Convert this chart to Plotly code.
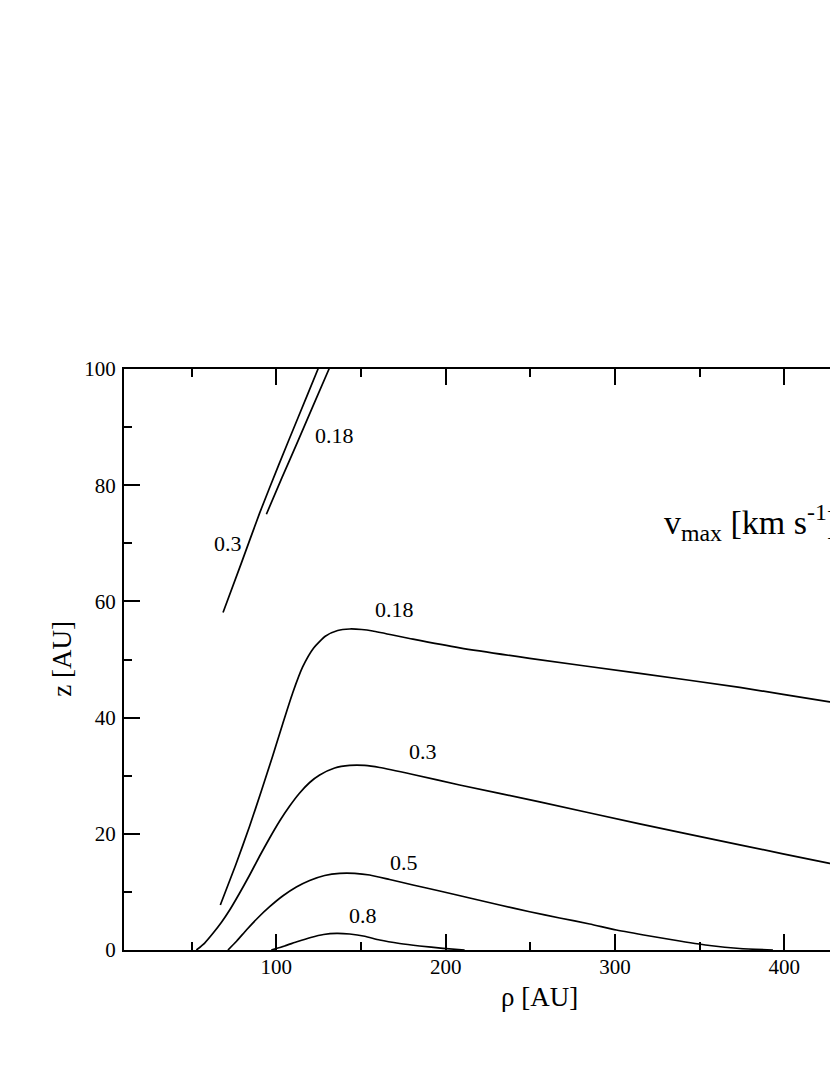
import plotly.graph_objects as go

# contour curves of v_max (rho in AU, z in AU)
rho_018_low = [66.9, 75.96, 84.23, 91.32, 97.82, 103.72, 109.63, 115.53, 122.03, 129.12, 136.21, 143.3,
               150.39, 156.88, 180.7, 208.3, 249.6, 314.6, 373.7, 426.8, 440.0]
z_018_low = [7.75, 14.63, 21.34, 27.54, 33.39, 38.90, 44.23, 48.71, 51.98, 54.04, 54.99, 55.25,
             55.16, 54.91, 53.5, 52.0, 50.2, 47.6, 45.2, 42.7, 42.1]

rho_03_low = [52.75, 57.65, 62.55, 67.69, 72.42, 78.32, 84.23, 90.14, 96.04, 101.95, 107.86, 113.76,
              119.67, 125.58, 134.44, 143.3, 152.16, 161.02, 180.68, 208.24, 255.5, 314.6, 373.7,
              426.8, 440.0]
z_03_low = [0.0, 1.20, 2.87, 4.82, 6.88, 9.81, 12.91, 16.18, 19.28, 22.20, 24.78, 27.02,
            28.83, 30.12, 31.33, 31.76, 31.76, 31.41, 30.21, 28.40, 25.5, 21.7, 18.1,
            14.9, 14.2]

rho_05 = [71.4, 76.6, 82.3, 88.96, 96.04, 103.72, 111.81, 119.67, 128.53, 137.39, 146.25, 155.11,
          166.92, 180.68, 196.46, 214.18, 231.9, 249.62, 267.34, 285.06, 300.83, 320.5, 338.2,
          355.9, 373.7, 393.3]
z_05 = [0.0, 1.55, 3.44, 5.51, 7.45, 9.29, 10.84, 11.96, 12.82, 13.20, 13.20, 12.91,
        12.13, 11.19, 10.15, 8.95, 7.75, 6.59, 5.51, 4.48, 3.44, 2.41, 1.55,
        0.77, 0.26, 0.0]

rho_08 = [97.0, 104.9, 112.6, 120.3, 127.9, 135.6, 143.3, 152.2, 161.0, 172.8, 184.6, 198.4, 211.2]
z_08 = [0.0, 0.69, 1.46, 2.15, 2.67, 2.87, 2.75, 2.36, 1.72, 1.12, 0.69, 0.29, 0.0]

rho_03_up = [68.5, 79.2, 90.1, 101.4, 112.9, 124.6, 125.8]
z_03_up = [58.1, 66.5, 75.2, 83.5, 91.7, 100.0, 100.9]

rho_018_up = [94.1, 103.3, 112.6, 131.1, 132.4]
z_018_up = [75.0, 81.3, 87.5, 100.0, 100.8]

# curve labels: text, rho, z
label_text = ["0.3", "0.18", "0.18", "0.3", "0.5", "0.8"]
label_rho = [71.5, 134.1, 169.5, 186.4, 175.5, 151.4]
label_z = [69.9, 88.6, 58.6, 34.2, 15.0, 5.9]

FONT = "Liberation Serif"

fig = go.Figure()
for xs, ys in [(rho_018_low, z_018_low), (rho_03_low, z_03_low), (rho_05, z_05),
               (rho_08, z_08), (rho_03_up, z_03_up), (rho_018_up, z_018_up)]:
    fig.add_trace(go.Scatter(x=xs, y=ys, mode="lines",
                             line=dict(color="black", width=1.7, shape="spline", smoothing=0.6),
                             showlegend=False))

for t, xv, yv in zip(label_text, label_rho, label_z):
    fig.add_annotation(x=xv, y=yv, text=t, showarrow=False,
                       font=dict(family=FONT, size=22, color="black"))

# axis titles and the v_max note (paper coords relative to the plot area)
fig.add_annotation(xref="paper", yref="paper", x=(539.5 - 124) / 706, y=(950 - 996.7) / 581,
                   xanchor="center", yanchor="middle",
                   text="ρ [AU]", showarrow=False, font=dict(family=FONT, size=27, color="black"))
fig.add_annotation(xref="paper", yref="paper", x=(62.5 - 124) / 706, y=(950 - 659.2) / 581,
                   xanchor="center", yanchor="middle",
                   text="z [AU]", textangle=-90, showarrow=False,
                   font=dict(family=FONT, size=27, color="black"))
fig.add_annotation(xref="paper", yref="paper", x=(661.7 - 124) / 706, y=(950 - 522) / 581,
                   xanchor="left", yanchor="middle",
                   text="v<sub>max</sub> [km s<sup>-1</sup>]", showarrow=False,
                   font=dict(family=FONT, size=34, color="black"))

fig.update_layout(
    width=830, height=1075,
    margin=dict(l=124, r=0, t=369, b=125),
    paper_bgcolor="white", plot_bgcolor="white",
    font=dict(family=FONT, size=21, color="black"),
    xaxis=dict(range=[10, 10 + 706 / 1.693], showgrid=False, zeroline=False,
               showline=True, linecolor="black", linewidth=2, mirror="ticks",
               ticks="inside", ticklen=16, tickwidth=2, tickcolor="black",
               tick0=0, dtick=100, ticklabelstandoff=-3,
               minor=dict(ticks="inside", ticklen=8, tickwidth=2, tickcolor="black", dtick=50)),
    yaxis=dict(range=[0, 100], showgrid=False, zeroline=False,
               showline=True, linecolor="black", linewidth=2,
               ticks="inside", ticklen=16, tickwidth=2, tickcolor="black",
               tick0=0, dtick=20, ticklabelstandoff=2,
               minor=dict(ticks="inside", ticklen=8, tickwidth=2, tickcolor="black", dtick=10)),
)

# drop the page's default body margin so the figure fills the window exactly
fig.write_html("out.html", config={"displayModeBar": False},
               post_script="document.body.style.margin='0';"
                           "document.documentElement.style.overflow='hidden';")
